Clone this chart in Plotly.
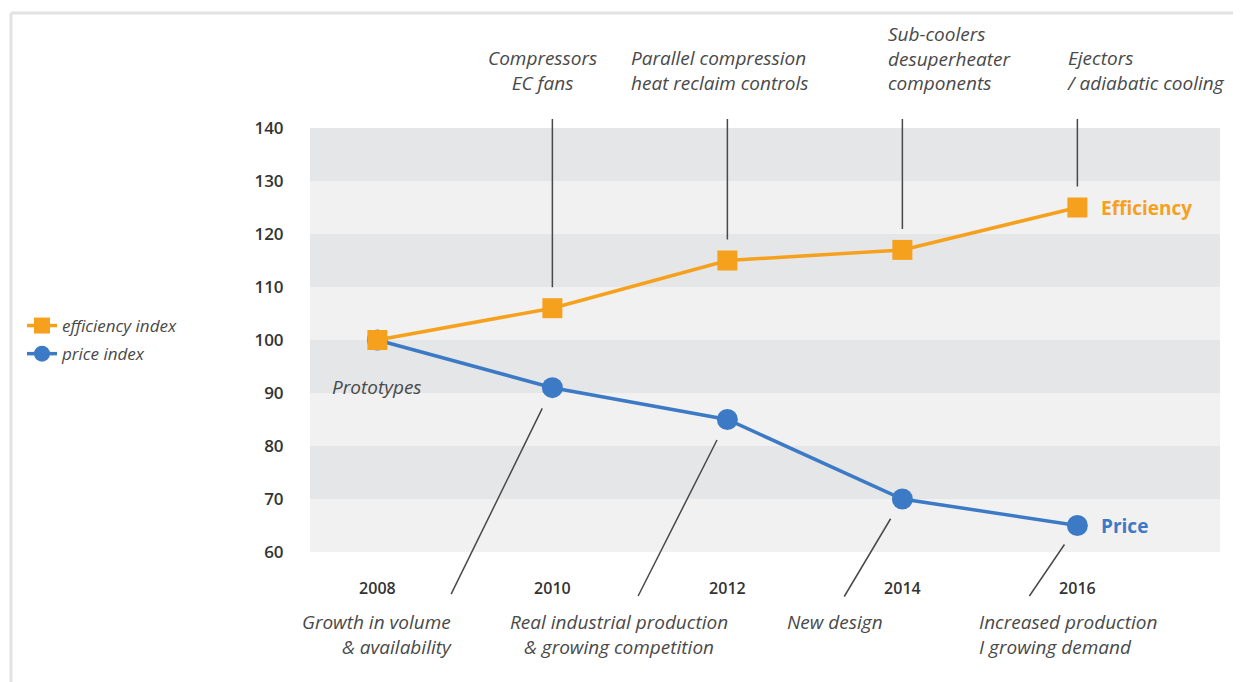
import plotly.graph_objects as go

years = [2008, 2010, 2012, 2014, 2016]
efficiency = [100, 106, 115, 117, 125]
price = [100, 91, 85, 70, 65]
y_ticks = [60, 70, 80, 90, 100, 110, 120, 130, 140]

top_notes = ["Compressors<br>EC fans",
             "Parallel compression<br>heat reclaim controls",
             "Sub-coolers<br>desuperheater<br>components",
             "Ejectors<br>/ adiabatic cooling"]
bottom_notes = ["Growth in volume<br>& availability",
                "Real industrial production<br>& growing competition",
                "New design",
                "Increased production<br>I growing demand"]

ORANGE = "#F6A11D"
BLUE = "#3C7AC6"
GREY = "#494949"
FONT = "Open Sans"

# page body adds an 8px offset, so the figure is a bit smaller
OFF = 8
W, H = 1241 - OFF, 682 - OFF
L, R, T, B = 310 - OFF, 21, 128 - OFF, 130
PW, PH = W - L - R, H - T - B


def px_x(p):
    return (p - OFF - L) / PW


def px_y(p):
    return (H - B - (p - OFF)) / PH


fig = go.Figure()

fig.add_trace(go.Scatter(
    x=years, y=price, name="price index", mode="lines+markers",
    line=dict(color=BLUE, width=3.5),
    marker=dict(symbol="circle", size=21, color=BLUE),
    legendgroup="p", legendrank=2,
))
fig.add_trace(go.Scatter(
    x=years, y=efficiency, name="efficiency index", mode="lines+markers",
    line=dict(color=ORANGE, width=3.5),
    marker=dict(symbol="square", size=20, color=ORANGE),
    legendgroup="e", legendrank=1,
))

# alternating bands
for lo, hi in zip(y_ticks[:-1], y_ticks[1:]):
    if (hi // 10) % 2 == 0:
        fig.add_shape(type="rect", xref="paper", yref="y", x0=0, x1=1,
                      y0=lo, y1=hi, fillcolor="#E5E6E8", line_width=0,
                      layer="below")

# frame around the picture
fig.add_shape(type="line", xref="paper", yref="paper",
              x0=px_x(11), x1=px_x(11), y0=px_y(13), y1=px_y(700),
              line=dict(color="#E2E2E2", width=3))
fig.add_shape(type="line", xref="paper", yref="paper",
              x0=px_x(11), x1=px_x(1260), y0=px_y(13), y1=px_y(13),
              line=dict(color="#E2E2E2", width=3))

note_font = dict(family=FONT, size=19, color=GREY, style="italic")

# top callouts
top_pos = [(years[1], "center", -10, "center"),
           (years[2], "left", -98, "left"),
           (years[3], "left", -16, "left"),
           (years[4], "left", -12, "left")]
for (yr, anchor, shift, align), txt, val in zip(top_pos, top_notes, efficiency[1:]):
    fig.add_annotation(x=yr, y=val, xref="x", yref="y", text="",
                       showarrow=True, arrowhead=0, arrowwidth=1.5,
                       arrowcolor=GREY, axref="pixel", ax=0,
                       ayref="y", ay=142, standoff=21)
    fig.add_annotation(x=yr, y=1, xref="x", yref="paper", text=txt,
                       showarrow=False, xanchor=anchor, yanchor="bottom",
                       xshift=shift, yshift=30, align=align, font=note_font)

# bottom callouts
tails = [(-102, 208), (-90, 178), (-59, 99), (-49, 72)]
for yr, val, (ax, ay) in zip(years[1:], price[1:], tails):
    fig.add_annotation(x=yr, y=val, xref="x", yref="y", text="",
                       showarrow=True, arrowhead=0, arrowwidth=1.5,
                       arrowcolor=GREY, axref="pixel", ax=ax,
                       ayref="pixel", ay=ay, standoff=23)

bot_pos = [(years[0], "right", 77, "right"),
           (years[1], "center", 67, "center"),
           (years[3], "left", -117, "left"),
           (years[4], "left", -100, "left")]
for (yr, anchor, shift, align), txt in zip(bot_pos, bottom_notes):
    fig.add_annotation(x=yr, y=0, xref="x", yref="paper", text=txt,
                       showarrow=False, xanchor=anchor, yanchor="top",
                       xshift=shift, yshift=-55, align=align, font=note_font)

fig.add_annotation(x=years[0], y=price[0], text="Prototypes", showarrow=False,
                   yshift=-47, font=note_font)
fig.add_annotation(x=years[-1], y=efficiency[-1], text="<b>Efficiency</b>",
                   showarrow=False, xanchor="left", xshift=22,
                   font=dict(family=FONT, size=19, color=ORANGE))
fig.add_annotation(x=years[-1], y=price[-1], text="<b>Price</b>",
                   showarrow=False, xanchor="left", xshift=22,
                   font=dict(family=FONT, size=19, color=BLUE))

fig.update_xaxes(range=[2007.23, 2017.63], tickvals=years,
                 showgrid=False, zeroline=False, showline=False,
                 ticks="outside", ticklen=22, tickcolor="rgba(0,0,0,0)",
                 tickfont=dict(family=FONT, size=16, color="#333333", weight=600))
fig.update_yaxes(range=[60, 140], tickvals=y_ticks,
                 showgrid=False, zeroline=False, showline=False,
                 ticks="outside", ticklen=22, tickcolor="rgba(0,0,0,0)",
                 tickfont=dict(family=FONT, size=17, color="#333333", weight=600))

fig.update_layout(
    width=W, height=H,
    margin=dict(l=L, r=R, t=T, b=B),
    paper_bgcolor="white", plot_bgcolor="#F1F1F2",
    showlegend=True,
    legend=dict(x=px_x(22), y=px_y(308), xanchor="left", yanchor="top",
                traceorder="grouped", tracegroupgap=3,
                bgcolor="rgba(0,0,0,0)",
                font=dict(family=FONT, size=17, color=GREY, style="italic")),
)

fig.write_html("out.html")
